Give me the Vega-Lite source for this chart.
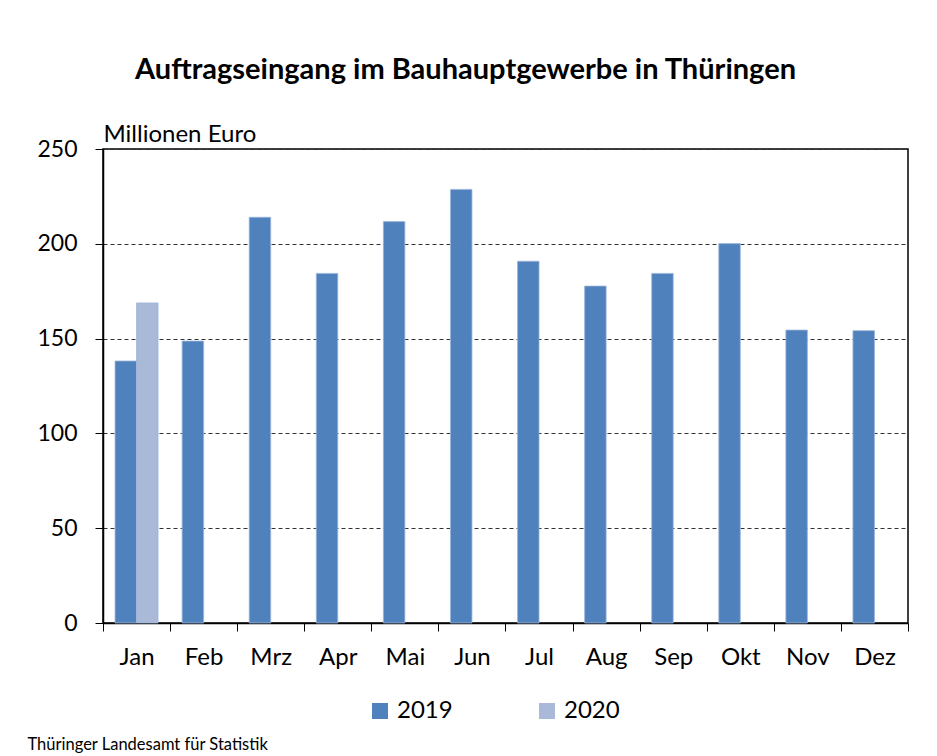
{
  "$schema": "https://vega.github.io/schema/vega-lite/v6.json",
  "autosize": {"type": "none"},
  "width": 805,
  "height": 474,
  "padding": {"left": 103, "top": 149, "right": 29, "bottom": 133},
  "background": "white",
  "title": {
    "text": "Auftragseingang im Bauhauptgewerbe in Thüringen",
    "font": "Lato",
    "fontSize": 29,
    "fontWeight": "bold",
    "color": "black",
    "anchor": "middle",
    "dx": -40,
    "offset": 37
  },
  "data": {
    "values": [
      {"Monat": "Jan", "Jahr": "2019", "Wert": 138.2},
      {"Monat": "Jan", "Jahr": "2020", "Wert": 168.8},
      {"Monat": "Feb", "Jahr": "2019", "Wert": 148.7},
      {"Monat": "Mrz", "Jahr": "2019", "Wert": 214.0},
      {"Monat": "Apr", "Jahr": "2019", "Wert": 184.4},
      {"Monat": "Mai", "Jahr": "2019", "Wert": 211.7},
      {"Monat": "Jun", "Jahr": "2019", "Wert": 228.7},
      {"Monat": "Jul", "Jahr": "2019", "Wert": 190.8},
      {"Monat": "Aug", "Jahr": "2019", "Wert": 177.7},
      {"Monat": "Sep", "Jahr": "2019", "Wert": 184.4},
      {"Monat": "Okt", "Jahr": "2019", "Wert": 200.1},
      {"Monat": "Nov", "Jahr": "2019", "Wert": 154.5},
      {"Monat": "Dez", "Jahr": "2019", "Wert": 154.2}
    ]
  },
  "mark": {"type": "bar", "stroke": "#9db5da", "strokeWidth": 0.8},
  "encoding": {
    "x": {
      "field": "Monat",
      "type": "nominal",
      "sort": ["Jan","Feb","Mrz","Apr","Mai","Jun","Jul","Aug","Sep","Okt","Nov","Dez"],
      "scale": {"paddingInner": 0, "paddingOuter": 0},
      "axis": {
        "title": "Thüringer Landesamt für Statistik",
        "titleX": -76,
        "titleY": 121,
        "titleAlign": "left",
        "titleAnchor": null,
        "titleBaseline": "middle",
        "titleFont": "Lato",
        "titleFontSize": 16.5,
        "titleFontWeight": "normal",
        "titleColor": "black",
        "labelAngle": 0,
        "labelFont": "Lato",
        "labelFontSize": 24,
        "labelColor": "black",
        "labelPadding": 14,
        "tickBand": "extent",
        "tickSize": 8,
        "tickColor": "black",
        "domainColor": "black",
        "domainWidth": 1.5
      }
    },
    "xOffset": {
      "field": "Jahr",
      "type": "nominal",
      "scale": {"domain": ["2019", "2020"], "paddingInner": 0, "paddingOuter": 0.56}
    },
    "y": {
      "field": "Wert",
      "type": "quantitative",
      "scale": {"domain": [0, 250], "nice": false},
      "axis": {
        "title": "Millionen Euro",
        "titleAngle": 0,
        "titleX": 0,
        "titleY": -8,
        "titleAlign": "left",
        "titleBaseline": "alphabetic",
        "titleFont": "Lato",
        "titleFontSize": 24,
        "titleFontWeight": "normal",
        "titleColor": "black",
        "values": [0, 50, 100, 150, 200, 250],
        "labelFont": "Lato",
        "labelFontSize": 23,
        "labelColor": "black",
        "labelPadding": 18,
        "tickSize": 8,
        "tickColor": "black",
        "domainColor": "black",
        "domainWidth": 1.5,
        "grid": true,
        "gridColor": "#333333",
        "gridDash": [4, 3],
        "gridWidth": 1.2
      }
    },
    "color": {
      "field": "Jahr",
      "type": "nominal",
      "scale": {"domain": ["2019", "2020"], "range": ["#4f81bd", "#aab9d8"]},
      "legend": {
        "title": null,
        "orient": "none",
        "direction": "horizontal",
        "legendX": 265,
        "legendY": 550,
        "symbolType": "square",
        "symbolSize": 256,
        "symbolStrokeWidth": 0,
        "labelFont": "Lato",
        "labelFontSize": 24,
        "labelColor": "black",
        "labelOffset": 5,
        "columnPadding": 82
      }
    }
  },
  "config": {
    "view": {"stroke": "black", "strokeWidth": 1.5}
  }
}
